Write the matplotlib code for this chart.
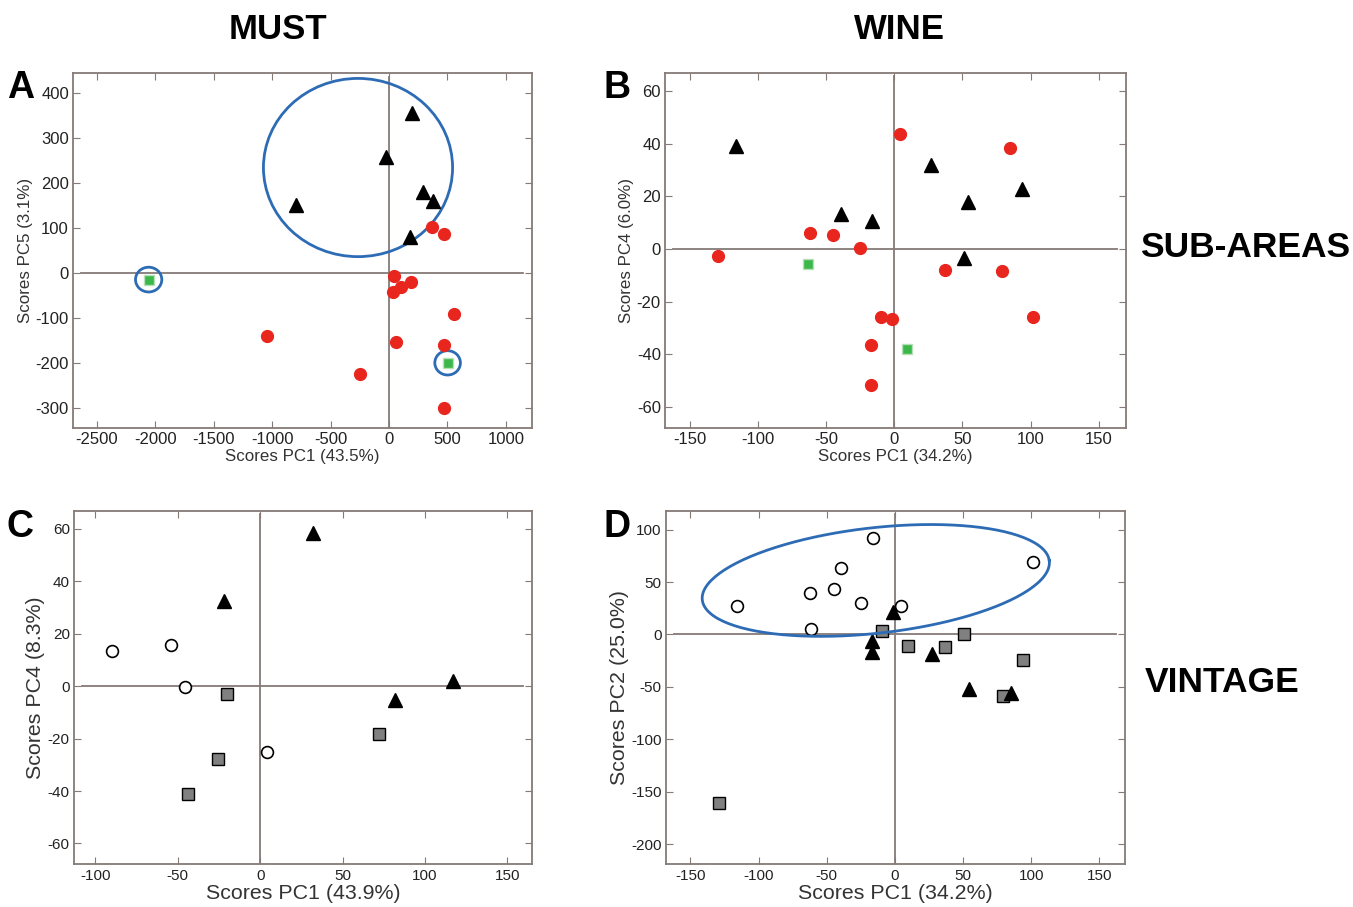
import numpy as np
import matplotlib.pyplot as plt
from matplotlib.patches import Ellipse

plt.rcParams['font.family'] = ['Liberation Sans', 'DejaVu Sans']
plt.rcParams['axes.unicode_minus'] = False

# ---- panel A: must, sub-areas (PC1 vs PC5)
a_tri_x = [-795, -25, 200, 290, 380, 180]
a_tri_y = [150, 258, 355, 180, 160, 80]
a_red_x = [371, 472, 43, 37, 107, 186, 554, -1041, 58, 472, -250, 472]
a_red_y = [101, 87, -6, -42, -31, -20, -91, -140, -153, -161, -224, -300]
a_grn_x = [-2057, 502]
a_grn_y = [-15, -200]

# ---- panel B: wine, sub-areas (PC1 vs PC4)
b_tri_x = [-116, 27, 94, 54, -39, -16, 51]
b_tri_y = [39, 32, 22.6, 18, 13.3, 10.8, -3.5]
b_red_x = [4, 85, -62, -45, -25, -129, 37.5, 79, -9.4, -1.3, 101.6, -17, -17]
b_red_y = [43.5, 38.4, 5.9, 5.2, 0.2, -2.8, -7.9, -8.5, -25.9, -26.7, -25.7, -36.3, -51.5]
b_grn_x = [-63, 9.7]
b_grn_y = [-5.6, -37.9]

# ---- panel C: must, vintage (PC1 vs PC4)
c_tri_x = [31.8, -21.9, 117.3, 82]
c_tri_y = [58.4, 32.5, 2, -5.4]
c_opn_x = [-90, -54, -45.9, 4.3]
c_opn_y = [13.3, 15.6, -0.3, -25.3]
c_sq_x = [-20, -25.5, -44, 72]
c_sq_y = [-3.1, -27.7, -41, -18.4]

# ---- panel D: wine, vintage (PC1 vs PC2)
d_opn_x = [-15.9, 101.4, -39.3, -44.8, -62.6, -25, 4.6, -115.9, -61.6]
d_opn_y = [92.4, 69.4, 63, 43.8, 39.3, 30.1, 27, 27, 5.3]
d_tri_x = [-1.2, -17, -17, 27.4, 54.2, 85.4]
d_tri_y = [21.4, -6.4, -16.5, -18.4, -51.6, -55.7]
d_sq_x = [-9.3, 9.3, 37.1, 51, 94, 79, -129]
d_sq_y = [3.4, -11.2, -11.8, 0.5, -24.1, -58.8, -161]

frame = '#857a76'
blue = '#2d6cb5'
red = '#e8261e'
green = '#3cb84a'


def setup(ax, xlim, ylim, xt, yt, xlab, ylab, tfs, lfs):
    ax.set_xlim(xlim)
    ax.set_ylim(ylim)
    ax.set_xticks(xt)
    ax.set_yticks(yt)
    ax.tick_params(direction='in', top=True, right=True, length=5,
                   color=frame, labelsize=tfs, labelcolor='#222222', pad=3)
    for s in ax.spines.values():
        s.set_color(frame)
        s.set_linewidth(1.3)
    ax.axhline(0, xmin=0.018, xmax=0.98, color=frame, lw=1.3, zorder=1)
    ax.axvline(0, ymin=0.0, ymax=0.99, color=frame, lw=1.3, zorder=1)
    ax.set_xlabel(xlab, fontsize=lfs, color='#333333', labelpad=1)
    ax.set_ylabel(ylab, fontsize=lfs, color='#333333', labelpad=2)


fig = plt.figure(figsize=(13.53, 9.07), dpi=100)
axA = fig.add_axes([0.054, 0.528, 0.339, 0.391])
axB = fig.add_axes([0.4915, 0.528, 0.3407, 0.392])
axC = fig.add_axes([0.0547, 0.047, 0.3385, 0.39])
axD = fig.add_axes([0.4922, 0.047, 0.3394, 0.39])

# A
setup(axA, (-2704, 1222), (-345, 443), np.arange(-2500, 1001, 500),
      np.arange(-300, 401, 100), 'Scores PC1 (43.5%)', 'Scores PC5 (3.1%)', 12, 12.2)
axA.plot(a_red_x, a_red_y, 'o', color=red, mec=red, ms=8.5)
axA.plot(a_tri_x, a_tri_y, '^', color='k', ms=10)
axA.plot(a_grn_x, a_grn_y, 's', color=green, mec='#b8e0b8', mew=1, ms=7)
axA.add_patch(Ellipse((-265, 234), 1619, 396, fill=False, ec=blue, lw=2))
axA.add_patch(Ellipse((-2057, -15), 225, 55, fill=False, ec=blue, lw=2))
axA.add_patch(Ellipse((502, -200), 219, 54, fill=False, ec=blue, lw=2))

# B
setup(axB, (-168, 170), (-68, 67), np.arange(-150, 151, 50),
      np.arange(-60, 61, 20), 'Scores PC1 (34.2%)', 'Scores PC4 (6.0%)', 12, 12.2)
axB.plot(b_red_x, b_red_y, 'o', color=red, mec=red, ms=8.5)
axB.plot(b_tri_x, b_tri_y, '^', color='k', ms=10)
axB.plot(b_grn_x, b_grn_y, 's', color=green, mec='#b8e0b8', mew=1, ms=7)

# C
setup(axC, (-113, 165), (-68, 67), np.arange(-100, 151, 50),
      np.arange(-60, 61, 20), 'Scores PC1 (43.9%)', 'Scores PC4 (8.3%)', 11, 15.4)
axC.plot(c_opn_x, c_opn_y, 'o', mfc='white', mec='k', mew=1.2, ms=8.5)
axC.plot(c_sq_x, c_sq_y, 's', mfc='#808080', mec='k', mew=1, ms=8)
axC.plot(c_tri_x, c_tri_y, '^', color='k', ms=10)

# D
setup(axD, (-168, 169), (-219, 118), np.arange(-150, 151, 50),
      np.arange(-200, 101, 50), 'Scores PC1 (34.2%)', 'Scores PC2 (25.0%)', 11, 15.4)
axD.plot(d_opn_x, d_opn_y, 'o', mfc='white', mec='k', mew=1.2, ms=8.5)
axD.plot(d_sq_x, d_sq_y, 's', mfc='#808080', mec='k', mew=1, ms=8)
axD.plot(d_tri_x, d_tri_y, '^', color='k', ms=10)
t = np.linspace(0, 2 * np.pi, 200)
axD.plot(-14 + 127.3 * np.cos(t) - 5.1 * np.sin(t),
         51.5 + 18.9 * np.cos(t) + 49.8 * np.sin(t), color=blue, lw=2)

# titles and labels
fig.text(0.2055, 0.967, 'MUST', fontsize=25, fontweight='bold', ha='center', va='center')
fig.text(0.665, 0.967, 'WINE', fontsize=25, fontweight='bold', ha='center', va='center')
fig.text(0.8426, 0.7266, 'SUB-AREAS', fontsize=25.5, fontweight='bold', ha='left', va='center')
fig.text(0.846, 0.247, 'VINTAGE', fontsize=25.5, fontweight='bold', ha='left', va='center')
for x, y, s in [(0.005, 0.903, 'A'), (0.446, 0.903, 'B'),
                (0.005, 0.419, 'C'), (0.446, 0.419, 'D')]:
    fig.text(x, y, s, fontsize=27, fontweight='bold', ha='left', va='center')

fig.savefig('out.png', dpi=100)
